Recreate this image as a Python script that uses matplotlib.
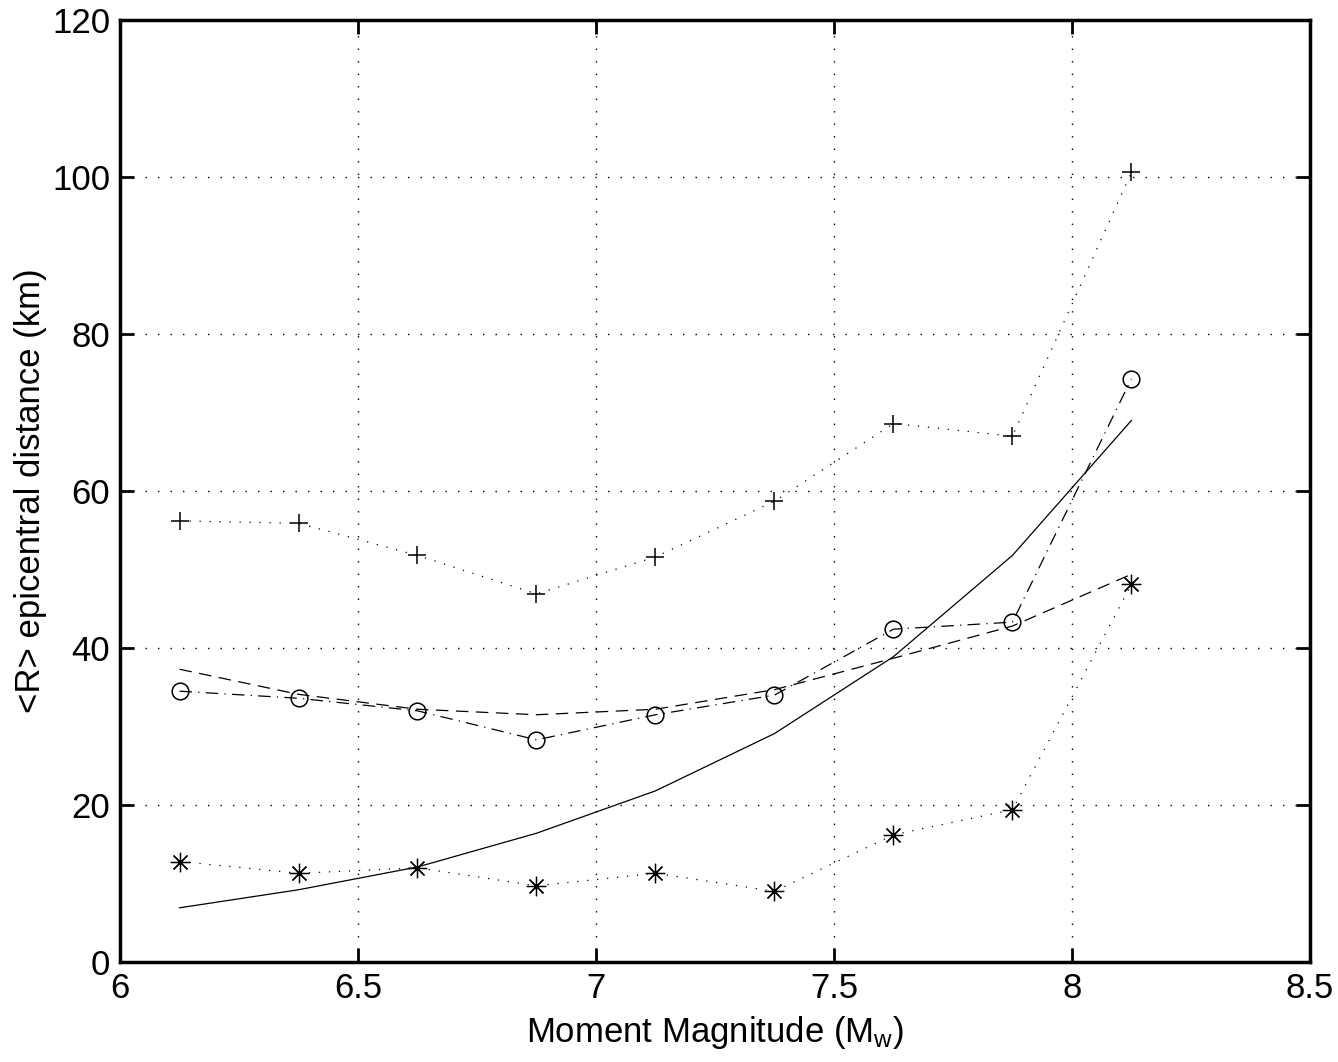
import matplotlib.pyplot as plt

plt.rcParams['font.family'] = ['Liberation Sans', 'DejaVu Sans']
plt.rcParams['mathtext.default'] = 'regular'

# magnitude bin centres
mw = [6.125, 6.375, 6.625, 6.875, 7.125, 7.375, 7.625, 7.875, 8.125]

r_plus = [56.2, 55.9, 51.8, 46.9, 51.6, 58.7, 68.6, 67.0, 100.6]
r_circle = [34.5, 33.6, 32.0, 28.3, 31.5, 34.0, 42.4, 43.3, 74.3]
r_dashed = [37.3, 34.1, 32.2, 31.5, 32.2, 34.7, 38.7, 42.8, 49.4]
r_solid = [6.9, 9.2, 12.1, 16.4, 21.8, 29.1, 38.9, 51.8, 69.0]
r_star = [12.8, 11.3, 12.0, 9.7, 11.3, 9.0, 16.2, 19.4, 48.1]

xticks = [6, 6.5, 7, 7.5, 8, 8.5]
yticks = [0, 20, 40, 60, 80, 100, 120]

fig = plt.figure(figsize=(13.38, 10.62), dpi=100)
ax = fig.add_axes([0.0897, 0.0942, 0.8893, 0.8868])

lw = 0.9
ax.plot(mw, r_plus, color='k', linestyle=(0, (1, 7)), linewidth=lw,
        marker='+', markersize=13, markeredgewidth=1.1)
ax.plot(mw, r_circle, color='k', linestyle=(0, (10, 5, 1, 5)), linewidth=lw,
        marker='o', markersize=12, markerfacecolor='none', markeredgewidth=1.1)
ax.plot(mw, r_dashed, color='k', linestyle=(0, (10, 6)), linewidth=lw)
ax.plot(mw, r_solid, color='k', linestyle='-', linewidth=lw)
ax.plot(mw, r_star, color='k', linestyle=(0, (1, 7)), linewidth=lw,
        marker=(8, 2, 0), markersize=14, markeredgewidth=0.9)

ax.set_xlim(6, 8.5)
ax.set_ylim(0, 120)
ax.set_xticks(xticks)
ax.set_xticklabels(['6', '6.5', '7', '7.5', '8', '8.5'])
ax.set_yticks(yticks)
ax.grid(True, color='k', linestyle=(0, (1, 8)), linewidth=1.0)

for s in ax.spines.values():
    s.set_linewidth(2.5)
ax.tick_params(direction='in', length=10, width=2, labelsize=25,
               top=True, right=True, pad=7)

ax.set_xlabel('Moment Magnitude (M$_{w}$)', fontsize=25, labelpad=7)
ax.set_ylabel('<R> epicentral distance (km)', fontsize=25, labelpad=4)

fig.savefig('out.png', dpi=100)
